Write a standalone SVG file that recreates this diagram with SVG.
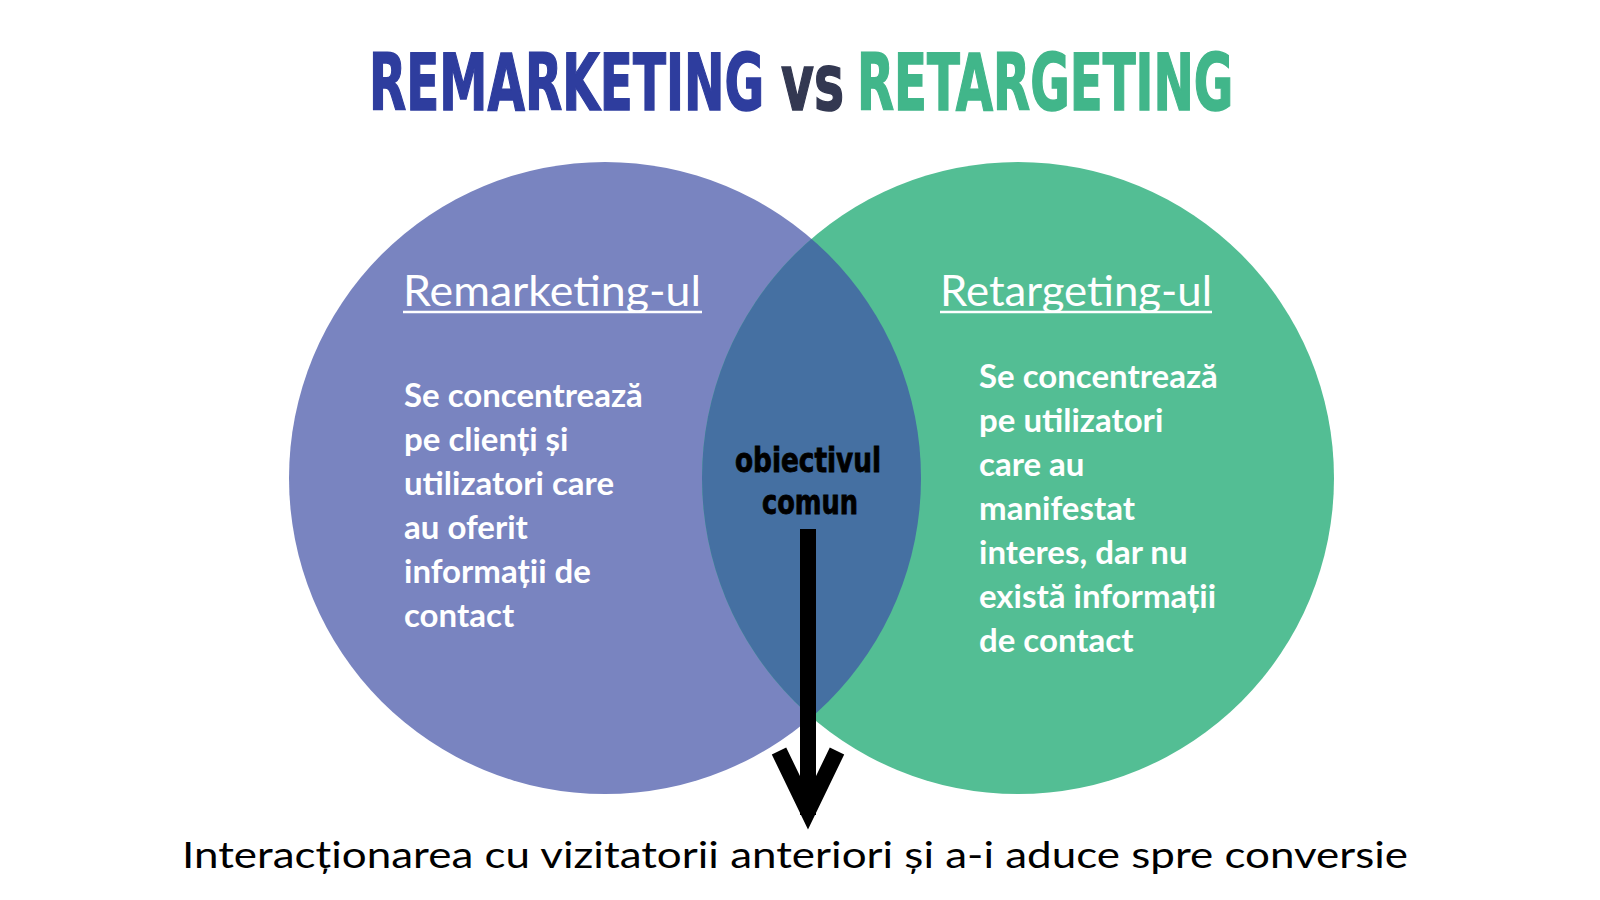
<svg xmlns="http://www.w3.org/2000/svg" width="1600" height="900" viewBox="0 0 1600 900">
<style>
.title{font-family:"DejaVu Sans Condensed","DejaVu Sans",sans-serif;font-weight:bold;font-size:78px;stroke-width:1.5}
.head{font-family:Lato,"Noto Sans",sans-serif;font-size:43px;fill:#ffffff}
.body{font-family:Lato,"Noto Sans",sans-serif;font-weight:bold;font-size:33px;fill:#ffffff}
.center{font-family:"DejaVu Sans Condensed","DejaVu Sans",sans-serif;font-weight:bold;font-size:34px;fill:#000000;stroke:#000000;stroke-width:0.8}
.foot{font-family:Lato,"Noto Sans",sans-serif;font-size:36px;fill:#000000}
.ul{stroke:#ffffff;stroke-width:2.5}
</style>
<defs>
<clipPath id="clipLeft"><circle cx="605" cy="478" r="316"/></clipPath>
</defs>
<rect width="1600" height="900" fill="#ffffff"/>
<g id="title">
<text class="title" transform="translate(369 110) scale(0.69 1)" x="0" y="0" fill="#2E3D9E" stroke="#2E3D9E">REMARKETING</text>
<text class="title" transform="translate(781 110) scale(0.72 1)" x="0" y="0" fill="#333851" stroke="#333851">vs</text>
<text class="title" transform="translate(857 110) scale(0.687 1)" x="0" y="0" fill="#41B68A" stroke="#41B68A">RETARGETING</text>
</g>
<g id="remarketing">
<circle cx="605" cy="478" r="316" fill="#7984C0"/>
</g>
<g id="retargeting">
<circle cx="1018" cy="478" r="316" fill="#53BE94"/>
</g>
<g id="overlap">
<circle cx="1018" cy="478" r="316" fill="#4570A2" clip-path="url(#clipLeft)"/>
</g>
<g id="remarketing-text">
<text class="head" x="403" y="306" textLength="298" lengthAdjust="spacingAndGlyphs">Remarketing-ul</text>
<line class="ul" x1="403" y1="312" x2="702" y2="312"/>
<text class="body" x="404">
<tspan x="404" y="407">Se concentrează</tspan>
<tspan x="404" y="451">pe clienți și</tspan>
<tspan x="404" y="495">utilizatori care</tspan>
<tspan x="404" y="539">au oferit</tspan>
<tspan x="404" y="583">informații de</tspan>
<tspan x="404" y="627">contact</tspan>
</text>
</g>
<g id="retargeting-text">
<text class="head" x="940" y="306" textLength="272" lengthAdjust="spacingAndGlyphs">Retargeting-ul</text>
<line class="ul" x1="940" y1="312" x2="1212" y2="312"/>
<text class="body" x="979">
<tspan x="979" y="388">Se concentrează</tspan>
<tspan x="979" y="432">pe utilizatori</tspan>
<tspan x="979" y="476">care au</tspan>
<tspan x="979" y="520">manifestat</tspan>
<tspan x="979" y="564">interes, dar nu</tspan>
<tspan x="979" y="608">există informații</tspan>
<tspan x="979" y="652">de contact</tspan>
</text>
</g>
<g id="common-goal">
<text class="center" x="735" y="472" textLength="146" lengthAdjust="spacingAndGlyphs">obiectivul</text>
<text class="center" x="762" y="514" textLength="96" lengthAdjust="spacingAndGlyphs">comun</text>
</g>
<g id="connectors" fill="none" stroke="#000000" stroke-width="16">
<line x1="808" y1="529" x2="808" y2="815"/>
<polyline points="779,751 808,811 837,751" stroke-linejoin="miter" stroke-miterlimit="6"/>
</g>
<g id="result">
<text class="foot" x="182" y="868" textLength="1226" lengthAdjust="spacingAndGlyphs">Interacționarea cu vizitatorii anteriori și a-i aduce spre conversie</text>
</g>
</svg>
